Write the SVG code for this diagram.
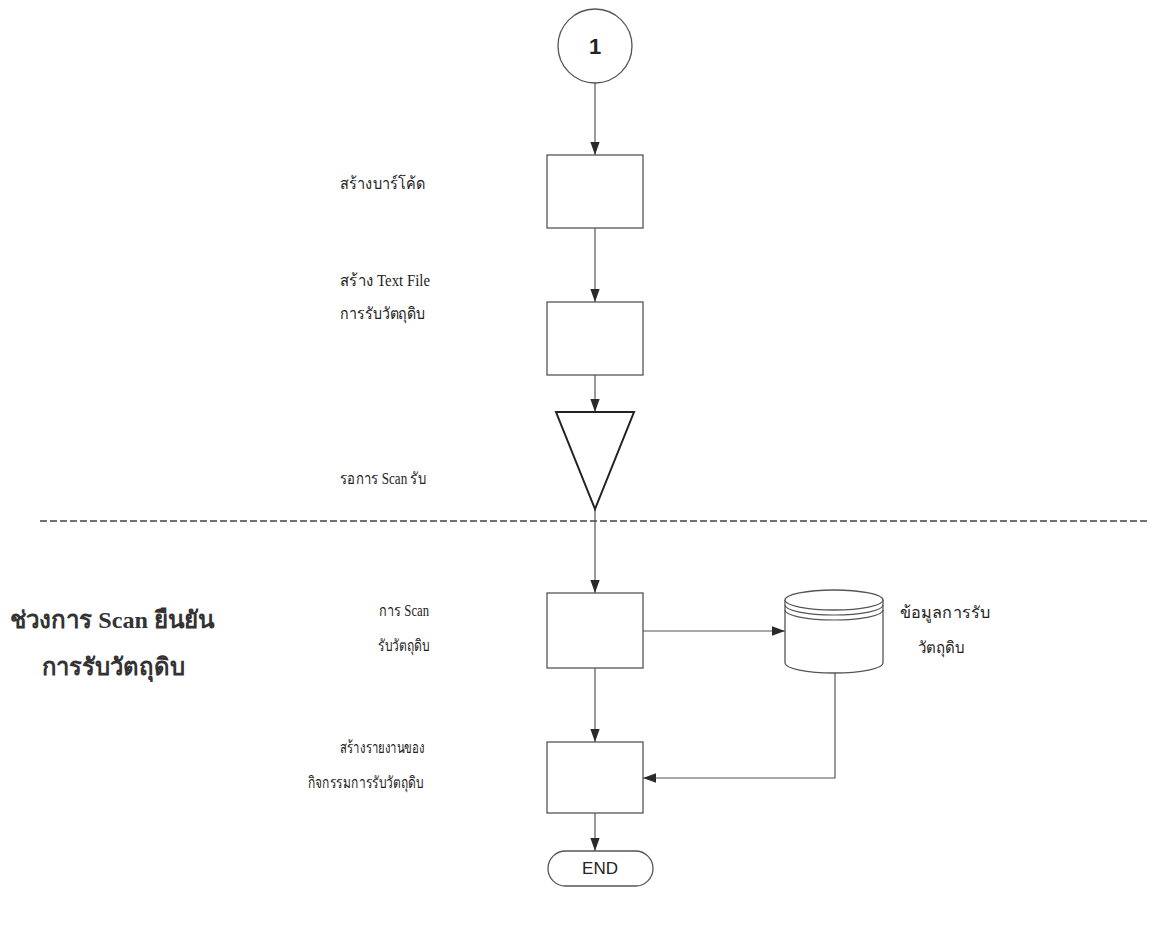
<svg xmlns="http://www.w3.org/2000/svg" width="1157" height="938" viewBox="0 0 1157 938">
  <defs>
    <marker id="arrow" viewBox="0 0 14 10" refX="14" refY="5" markerWidth="13" markerHeight="10" markerUnits="userSpaceOnUse" orient="auto">
      <path d="M0,0 L14,5 L0,10 Z" fill="#2a2a2a"/>
    </marker>
    <style>
      .shape { fill: #ffffff; stroke: #555555; stroke-width: 1.3; }
      .tri { fill: #ffffff; stroke: #222222; stroke-width: 2; }
      .wire { fill: none; stroke: #555555; stroke-width: 1.2; }
      .lbl { font-family: "Liberation Serif", "Noto Sans CJK SC", serif; font-size: 16px; fill: #222222; }
      .lane { font-family: "Liberation Serif", "Noto Sans CJK SC", serif; font-size: 24px; font-weight: bold; fill: #333333; }
      .sans { font-family: "Liberation Sans", Arial, sans-serif; fill: #222222; }
    </style>
  </defs>

  <rect width="1157" height="938" fill="#ffffff"/>

  <!-- lane divider -->
  <line x1="40" y1="521" x2="1147" y2="521" stroke="#444444" stroke-width="1.5" stroke-dasharray="7,3"/>

  <!-- lane title -->
  <g id="lane-title">
    <text class="lane" x="112" y="628" text-anchor="middle" textLength="205" lengthAdjust="spacingAndGlyphs">ช่วงการ Scan ยืนยัน</text>
    <text class="lane" x="113" y="675" text-anchor="middle" textLength="143" lengthAdjust="spacingAndGlyphs">การรับวัตถุดิบ</text>
  </g>

  <!-- connectors -->
  <g id="connectors">
    <line class="wire" x1="595" y1="83" x2="595" y2="155" marker-end="url(#arrow)"/>
    <line class="wire" x1="595" y1="228" x2="595" y2="302" marker-end="url(#arrow)"/>
    <line class="wire" x1="595" y1="375" x2="595" y2="412" marker-end="url(#arrow)"/>
    <line class="wire" x1="595" y1="509" x2="595" y2="593" marker-end="url(#arrow)"/>
    <line class="wire" x1="643" y1="631" x2="785" y2="631" marker-end="url(#arrow)"/>
    <line class="wire" x1="595" y1="668" x2="595" y2="742" marker-end="url(#arrow)"/>
    <polyline class="wire" points="835,673 835,778 643,778" marker-end="url(#arrow)"/>
    <line class="wire" x1="595" y1="813" x2="595" y2="851" marker-end="url(#arrow)"/>
  </g>

  <!-- off-page connector -->
  <g id="node-connector-1">
    <circle class="shape" cx="595" cy="46" r="37"/>
    <text class="sans" x="595" y="54" font-size="22" font-weight="bold" text-anchor="middle">1</text>
  </g>

  <g id="node-barcode">
    <rect class="shape" x="547" y="155" width="96" height="73"/>
    <text class="lbl" x="340" y="189" textLength="85" lengthAdjust="spacingAndGlyphs">สร้างบาร์โค้ด</text>
  </g>

  <g id="node-textfile">
    <rect class="shape" x="547" y="302" width="96" height="73"/>
    <text class="lbl" x="340" y="286" textLength="90" lengthAdjust="spacingAndGlyphs">สร้าง Text File</text>
    <text class="lbl" x="340" y="319" textLength="85" lengthAdjust="spacingAndGlyphs">การรับวัตถุดิบ</text>
  </g>

  <g id="node-wait">
    <polygon class="tri" points="556,412 634,412 595,509"/>
    <text class="lbl" x="340" y="484" textLength="86" lengthAdjust="spacingAndGlyphs">รอการ Scan รับ</text>
  </g>

  <g id="node-scan">
    <rect class="shape" x="547" y="593" width="96" height="75"/>
    <text class="lbl" x="379" y="616" textLength="50" lengthAdjust="spacingAndGlyphs">การ Scan</text>
    <text class="lbl" x="378" y="651" textLength="51" lengthAdjust="spacingAndGlyphs">รับวัตถุดิบ</text>
  </g>

  <g id="node-datastore">
    <path class="shape" d="M785,600 L785,663 A49,10 0 0 0 883,663 L883,600"/>
    <ellipse class="shape" cx="834" cy="600" rx="49" ry="10"/>
    <path class="wire" d="M785,605 A49,10 0 0 0 883,605"/>
    <path class="wire" d="M785,610 A49,10 0 0 0 883,610"/>
    <text class="lbl" x="900" y="618" textLength="90" lengthAdjust="spacingAndGlyphs">ข้อมูลการรับ</text>
    <text class="lbl" x="918" y="653" textLength="46" lengthAdjust="spacingAndGlyphs">วัตถุดิบ</text>
  </g>

  <g id="node-report">
    <rect class="shape" x="547" y="742" width="96" height="71"/>
    <text class="lbl" x="340" y="753" textLength="85" lengthAdjust="spacingAndGlyphs">สร้างรายงานของ</text>
    <text class="lbl" x="308" y="788" textLength="115" lengthAdjust="spacingAndGlyphs">กิจกรรมการรับวัตถุดิบ</text>
  </g>

  <g id="node-end">
    <rect class="shape" x="548" y="851" width="105" height="35" rx="17.5" ry="17.5"/>
    <text class="sans" x="600" y="874" font-size="17" text-anchor="middle">END</text>
  </g>
</svg>
